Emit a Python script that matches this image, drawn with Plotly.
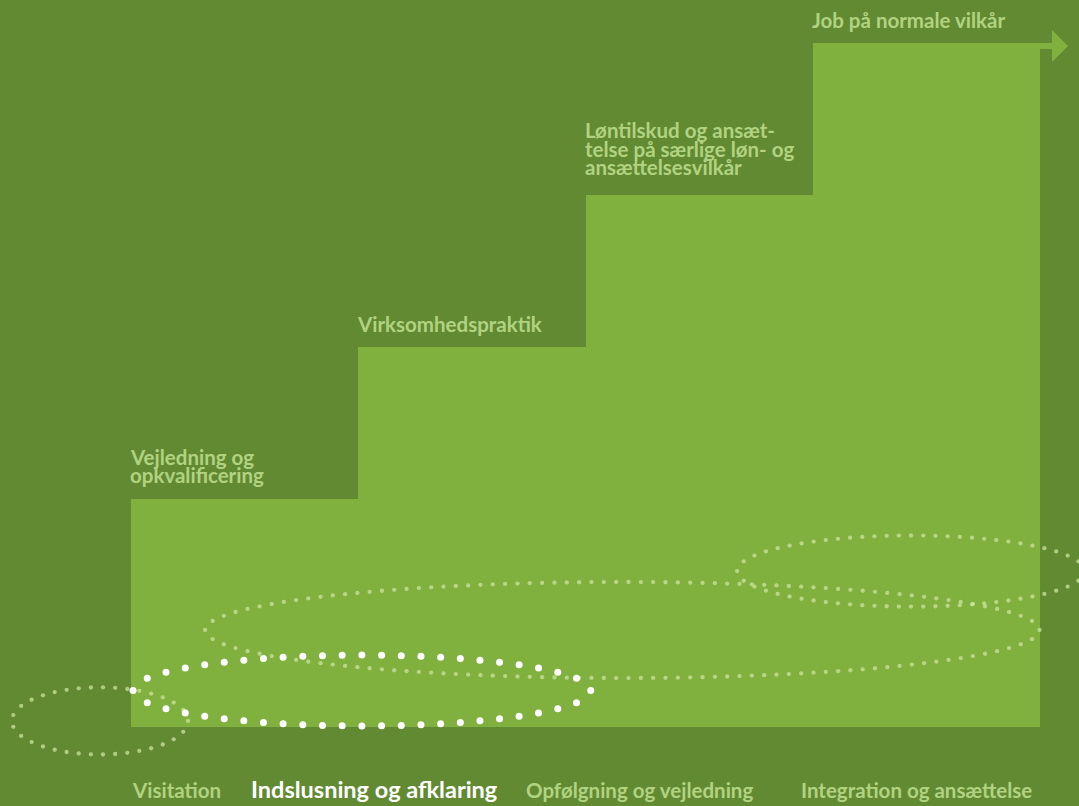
import numpy as np
import plotly.graph_objects as go

# ---------------- data ----------------
stage_lines = [
    ["Vejledning og", "opkvalificering"],
    ["Virksomhedspraktik"],
    ["Løntilskud og ansæt-", "telse på særlige løn- og", "ansættelsesvilkår"],
    ["Job på normale vilkår"],
]
stage_levels = [1.5, 2.5, 3.5, 4.5]

phase_names = ["Visitation", "Indslusning og afklaring",
               "Opfølgning og vejledning", "Integration og ansættelse"]
phase_start = [-0.524, 0.009, 0.326, 2.667]
phase_end = [0.251, 2.023, 3.998, 4.198]
phase_mid = [0.040, 0.240, 0.638, 1.026]
phase_half = [0.221, 0.233, 0.316, 0.234]
active_phase = 1

# ---------------- style ----------------
W, H = 1079, 806
X0_PX, UX = 131.0, 227.25      # px of stage 0 and px per stage
Y0_PX, UY = 727.0, 152.0       # px of baseline and px per level
DARK = "#628a32"
LIGHT = "#80b13e"
PALE_TXT = "#b1d381"
DOT_PALE = "rgba(206,229,162,0.72)"
FONT = "Lato"
LABEL_SIZE = 20.5
ACTIVE_SIZE = 23.5
LABEL_GAP = [16, 15, 20, 15]
LINE_STEP = 18.3
BOTTOM_BASE = 798
BOTTOM_X = [133, 252, 527, 802]


def xd(px):
    return (px - X0_PX) / UX


def yd(py):
    return (Y0_PX - py) / UY


def ypx(v):
    return Y0_PX - v * UY


fig = go.Figure()

# staircase as bars
fig.add_trace(go.Bar(
    x=[i + 0.5 for i in range(len(stage_levels))], y=stage_levels, width=1.0,
    marker=dict(color=LIGHT, line=dict(width=0)), hoverinfo="skip",
    showlegend=False))

# arrow at top of last stage
R = X0_PX + len(stage_levels) * UX
T = ypx(stage_levels[-1])
ax_px = [R - 1, R + 12, R + 12, R + 28, R + 12, R + 12, R - 1]
ay_px = [T, T, T - 13, T + 3, T + 19, T + 6, T + 6]
fig.add_trace(go.Scatter(
    x=[xd(v) for v in ax_px], y=[yd(v) for v in ay_px], mode="lines",
    fill="toself", fillcolor=LIGHT, line=dict(width=0), hoverinfo="skip",
    showlegend=False))


def ellipse_dots(x0, x1, ym, hh, spacing):
    cx = (X0_PX + x0 * UX + X0_PX + x1 * UX) / 2
    rx = (x1 - x0) * UX / 2
    cy = ypx(ym)
    ry = hh * UY
    t = np.linspace(0, 2 * np.pi, 4000)
    px = cx + rx * np.cos(t)
    py = cy - ry * np.sin(t)
    d = np.concatenate([[0], np.cumsum(np.hypot(np.diff(px), np.diff(py)))])
    n = int(round(d[-1] / spacing))
    s = np.linspace(0, d[-1], n, endpoint=False)
    qx = np.interp(s, d, px)
    qy = np.interp(s, d, py)
    return [xd(v) for v in qx], [yd(v) for v in qy]


order = [i for i in range(len(phase_names)) if i != active_phase] + [active_phase]
for i in order:
    act = i == active_phase
    ex, ey = ellipse_dots(phase_start[i], phase_end[i], phase_mid[i],
                          phase_half[i], 19.8 if act else 12.3)
    fig.add_trace(go.Scatter(
        x=ex, y=ey, mode="markers",
        marker=dict(size=7 if act else 4.3,
                    color="#ffffff" if act else DOT_PALE, line=dict(width=0)),
        hoverinfo="skip", showlegend=False))

annotations = []


def add_text(text, left_px, baseline_px, size, color):
    annotations.append(dict(
        text=text, x=xd(left_px - 3), y=yd(baseline_px - 0.387 * size),
        xref="x", yref="y", xanchor="left", yanchor="middle",
        showarrow=False, align="left",
        font=dict(family=FONT, size=size, color=color, weight=700)))


for i, lines in enumerate(stage_lines):
    left = X0_PX + i * UX
    last_base = ypx(stage_levels[i]) - LABEL_GAP[i]
    n = len(lines)
    for j, ln in enumerate(lines):
        add_text(ln, left, last_base - (n - 1 - j) * LINE_STEP, LABEL_SIZE, PALE_TXT)

for i, name in enumerate(phase_names):
    act = i == active_phase
    add_text(name, BOTTOM_X[i], BOTTOM_BASE, ACTIVE_SIZE if act else LABEL_SIZE,
             "#ffffff" if act else PALE_TXT)

fig.update_layout(
    width=W, height=H, margin=dict(l=0, r=0, t=0, b=0),
    paper_bgcolor=DARK, plot_bgcolor=DARK,
    xaxis=dict(range=[xd(0), xd(W)], visible=False, fixedrange=True),
    yaxis=dict(range=[yd(H), yd(0)], visible=False, fixedrange=True),
    annotations=annotations, showlegend=False, bargap=0)

fig.write_html(
    "out.html",
    config={"displayModeBar": False},
    post_script="document.body.style.margin='0px';"
                "document.body.style.overflow='hidden';"
                "document.body.style.background='" + DARK + "';")
